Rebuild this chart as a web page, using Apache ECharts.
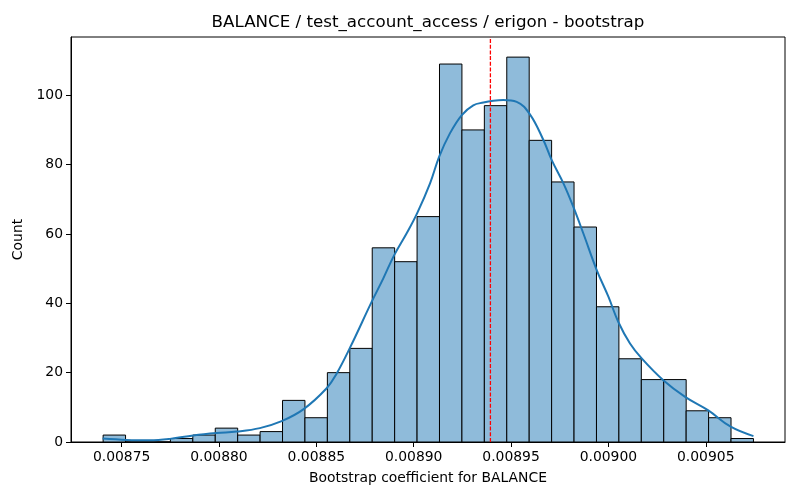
<!DOCTYPE html>
<html>
<head>
<meta charset="utf-8">
<script src="https://cdn.jsdelivr.net/npm/echarts@6/dist/echarts.min.js"></script>
<style>html,body{margin:0;padding:0;background:#fff}#c{width:800px;height:500px}</style>
</head>
<body>
<div id="c"></div>
<script>
// Histogram bins (left edge of first bin and bin width) and counts
const binStart = 0.0087405;
const binWidth = 0.000011517;
const counts = [2, 0, 0, 1, 2, 4, 2, 3, 12, 7, 20, 27, 56, 52, 65, 109, 90, 97, 111, 87, 75, 62, 39, 24, 18, 18, 9, 7, 1];

// KDE curve points
const kdeX = [0.0087402, 0.0087526, 0.0087645, 0.0087748, 0.0087868, 0.0087988, 0.0088091, 0.0088210, 0.0088322, 0.0088433,
              0.0088553, 0.0088604, 0.0088673, 0.0088784, 0.0088844, 0.0088900, 0.0088964, 0.0089018, 0.0089084, 0.0089131,
              0.0089186, 0.0089247, 0.0089306, 0.0089358, 0.0089409, 0.0089460, 0.0089529, 0.0089597, 0.0089666, 0.0089709,
              0.0089769, 0.0089820, 0.0089871, 0.0089940, 0.0090000, 0.0090051, 0.0090111, 0.0090171, 0.0090282, 0.0090394,
              0.0090513, 0.0090628, 0.0090745];
const kdeY = [1.0, 0.6, 0.5, 0.9, 1.9, 2.6, 3.0, 4.0, 6.0, 9.4,
              15.5, 19.7, 27.2, 40.4, 47.2, 53.9, 60.2, 66.0, 74.6, 82.3,
              89.0, 94.3, 97.1, 97.9, 98.4, 98.6, 98.1, 94.5, 87.1, 81.3,
              74.6, 67.8, 60.2, 49.6, 41.9, 34.6, 28.4, 24.1, 17.8, 13.0,
              9.1, 4.4, 1.7];

// Reference (dashed) line position
const refLine = 0.0089394;

// Axis ticks
const xTicks = [0.00875, 0.00880, 0.00885, 0.00890, 0.00895, 0.00900, 0.00905];
const yTicks = [0, 20, 40, 60, 80, 100];
const yMax = 116.8;

const titleText = 'BALANCE / test_account_access / erigon - bootstrap';
const xName = 'Bootstrap coefficient for BALANCE';
const yName = 'Count';

const histData = counts.map((c, i) => [binStart + i * binWidth, binStart + (i + 1) * binWidth, c]);
const kdeData = kdeX.map((x, i) => [x, kdeY[i]]);
const refData = [[refLine, 0], [refLine, yMax]];

const font = 'DejaVu Sans';
const chart = echarts.init(document.getElementById('c'), null, {renderer: 'canvas'});
chart.setOption({
  animation: false,
  backgroundColor: '#fff',
  grid: {left: 71, right: 15, top: 37, bottom: 58, show: true, borderColor: '#000', borderWidth: 1, backgroundColor: 'transparent'},
  graphic: [{
    type: 'text', x: 428, y: 23, z: 10,
    style: {text: titleText, textAlign: 'center', textVerticalAlign: 'middle', font: '16.7px "DejaVu Sans"', fill: '#000'}
  }],
  xAxis: {
    type: 'value', min: 0.008724, max: 0.0090907,
    name: xName, nameLocation: 'middle', nameGap: 29,
    nameTextStyle: {fontFamily: font, fontSize: 13.9, color: '#000'},
    axisLine: {show: true, onZero: false, lineStyle: {color: '#000', width: 1}},
    axisTick: {show: true, length: 5, lineStyle: {color: '#000'}, customValues: xTicks},
    axisLabel: {fontFamily: font, fontSize: 13.9, color: '#000', margin: 8, customValues: xTicks,
                formatter: v => v.toFixed(5)},
    splitLine: {show: false}
  },
  yAxis: {
    type: 'value', min: 0, max: yMax,
    name: yName, nameLocation: 'middle', nameGap: 39,
    nameTextStyle: {fontFamily: font, fontSize: 13.9, color: '#000'},
    axisLine: {show: true, lineStyle: {color: '#000', width: 1}},
    axisTick: {show: true, length: 5, lineStyle: {color: '#000'}, customValues: yTicks},
    axisLabel: {fontFamily: font, fontSize: 13.9, color: '#000', margin: 8, customValues: yTicks},
    splitLine: {show: false}
  },
  series: [
    {
      type: 'custom',
      data: histData,
      encode: {x: [0, 1], y: 2},
      renderItem: function (params, api) {
        const p0 = api.coord([api.value(0), 0]);
        const p1 = api.coord([api.value(1), api.value(2)]);
        return {
          type: 'rect',
          shape: {x: p0[0], y: p1[1], width: p1[0] - p0[0], height: p0[1] - p1[1]},
          style: {fill: '#8fbbda', stroke: '#000', lineWidth: 1}
        };
      },
      z: 2
    },
    {
      type: 'line',
      data: kdeData,
      smooth: 0.4,
      showSymbol: false,
      lineStyle: {color: '#1f77b4', width: 2},
      z: 3
    },
    {
      type: 'line',
      data: refData,
      showSymbol: false,
      silent: true,
      lineStyle: {color: '#ff0000', type: [4, 1.7], width: 1.3},
      z: 4
    }
  ]
});
</script>
</body>
</html>
